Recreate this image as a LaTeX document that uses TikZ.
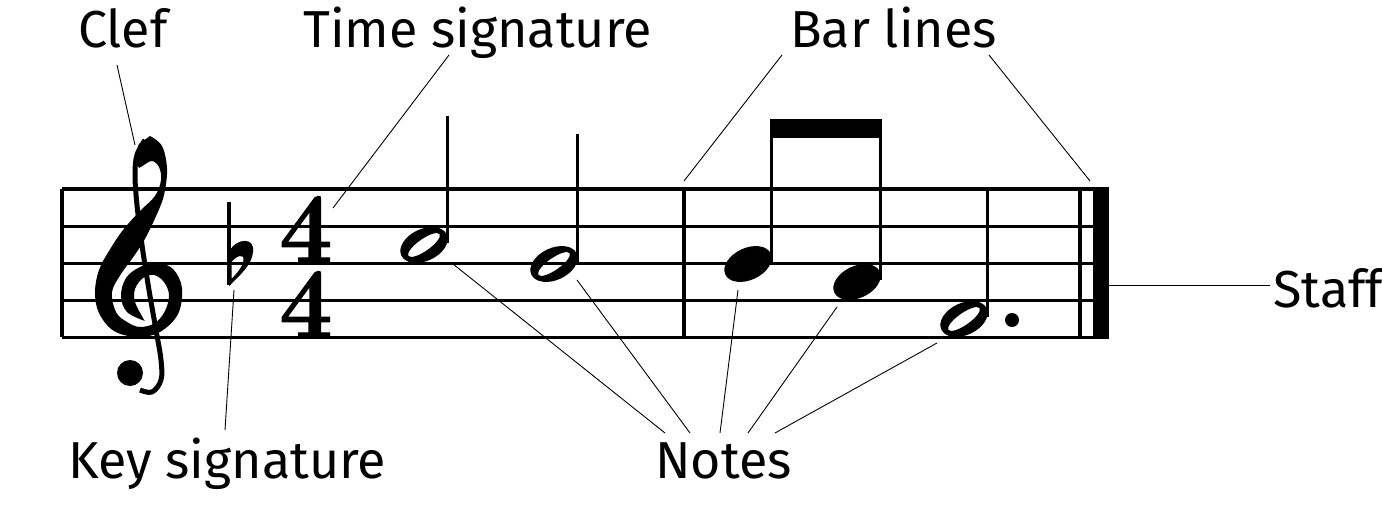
\documentclass[tikz,border=0pt]{standalone}
\usepackage{fontspec}
\newfontfamily\lblfont{Fira Sans}
\newfontfamily\sigfont{lmroman10-bold}[Extension=.otf, FakeBold=1.2]
\usepackage{tikz}

\tikzset{
  staffline/.style={line width=3pt},
  barline/.style={line width=3.5pt},
  stemline/.style={line width=3pt},
  pointer/.style={line width=0.9pt},
  lbl/.style={anchor=base west, inner sep=0pt, font=\lblfont\fontsize{52}{52}\selectfont},
  timesig/.style={inner sep=0pt, align=center, font=\sigfont\fontsize{101}{75}\selectfont}
}

\begin{document}
\begin{tikzpicture}[x=1pt,y=1pt,yscale=-1,xscale=1]
\useasboundingbox (0,0) rectangle (1382,532);

% Staff
\foreach \yy in {189,226,263,300,337}
  \draw [staffline] (62,\yy) -- (1109,\yy);
\draw [barline] (62,189) -- (62,337);
\draw [barline] (684,189) -- (684,337);
\draw [barline] (1080,189) -- (1080,337);
\fill (1093,187.5) rectangle (1109,338.5);

% Clef
\fill plot [smooth, tension=0.6] coordinates {(150,136) (162,146) (167,168) (165,190) (160,207) (146,237) (134,256) (121,274) (112,292) (116,312) (127,322) (140,327) (155,323) (165,311) (169,295) (164,282) (154,275) (143,278) (135,289) (135,302) (143,318) (145,321)}
  -- plot [smooth, tension=0.6] coordinates {(145,321) (127,312) (121,296) (126,278) (140,267) (157,263) (173,269) (182,288) (178,314) (160,332) (138,337) (114,331) (99,313) (95,292) (99,270) (109,251) (123,230) (140,211) (155,196) (161,180) (159,167) (152,161) (144,165)}
  -- (139,168) -- (134,158) -- (139,144) -- cycle;
\draw [line width=5pt] plot [smooth, tension=0.6] coordinates {(145,140) (137,155) (135,175) (137,205) (142,245) (149,290) (156,330) (161,360) (161,380) (152,392) (140,390)};
\fill (130,373) circle [radius=13];

% Key signature (flat)
\draw [line width=3.5pt] (229,202) -- (229,285);
\fill [even odd rule] (230,250) .. controls (236,239) and (255,236) .. (253,252) .. controls (252,265) and (240,275) .. (229,286) -- cycle
  (231.5,262) .. controls (236,256) and (244,253) .. (243.5,260) .. controls (243,267) and (236,274) .. (231.5,279) -- cycle;

% Time signature
\node [timesig] (timeSig) at (306,267) {\scalebox{0.92}[1]{4}\\\scalebox{0.92}[1]{4}};

% Half notes
\fill [even odd rule] (424,245) ellipse [x radius=25, y radius=16, rotate=-25] (424,245) ellipse [x radius=19, y radius=6, rotate=-35];
\draw [stemline] (447,116) -- (447,243);
\fill [even odd rule] (554,264) ellipse [x radius=25, y radius=16, rotate=-25] (554,264) ellipse [x radius=19, y radius=6, rotate=-35];
\draw [stemline] (577,134) -- (577,262);

% Beamed notes
\fill (748,264) ellipse [x radius=25, y radius=16, rotate=-25];
\fill (857,282) ellipse [x radius=25, y radius=16, rotate=-25];
\draw [stemline] (771,130) -- (771,262);
\draw [stemline] (880,130) -- (880,280);
\fill (769.5,119) rectangle (881.5,138);

% Dotted half note
\fill [even odd rule] (964,319) ellipse [x radius=25, y radius=16, rotate=-25] (964,319) ellipse [x radius=19, y radius=6, rotate=-35];
\draw [stemline] (987,189) -- (987,317);
\fill (1012,320) circle [radius=7];

% Text Node
\node [lbl] (clefLbl) at (78,48) {Clef};
\node [lbl] (timeLbl) at (303,48) {Time signature};
\node [lbl] (barLbl) at (790,48) {Bar lines};
\node [lbl] (staffLbl) at (1273,307) {Staff};
\node [lbl] (keyLbl) at (68,478) {Key signature};
\node [lbl] (notesLbl) at (655,478) {Notes};

% Pointer ends
\coordinate (clefFoot) at (117,65);
\coordinate (clefTip) at (135,145);
\coordinate (timeFoot) at (449,55);
\coordinate (timeTip) at (333,208);
\coordinate (barFootA) at (782,55);
\coordinate (barTipA) at (684,181);
\coordinate (barFootB) at (989,55);
\coordinate (barTipB) at (1090,181);
\coordinate (staffFoot) at (1270,285);
\coordinate (staffTip) at (1109,285);
\coordinate (keyFoot) at (225,430);
\coordinate (keyTip) at (234,290);
\coordinate (noteTipA) at (453,264);
\coordinate (noteTipB) at (577,280);
\coordinate (noteTipC) at (738,290);
\coordinate (noteTipD) at (837,307);
\coordinate (noteTipE) at (937,343);

% Pointers
\draw [pointer] (clefFoot) -- (clefTip);
\draw [pointer] (timeFoot) -- (timeTip);
\draw [pointer] (barFootA) -- (barTipA);
\draw [pointer] (barFootB) -- (barTipB);
\draw [pointer] (staffFoot) -- (staffTip);
\draw [pointer] (keyFoot) -- (keyTip);
\draw [pointer] (665,433) -- (noteTipA);
\draw [pointer] (690,433) -- (noteTipB);
\draw [pointer] (720,433) -- (noteTipC);
\draw [pointer] (748,433) -- (noteTipD);
\draw [pointer] (775,433) -- (noteTipE);
\end{tikzpicture}
\end{document}
